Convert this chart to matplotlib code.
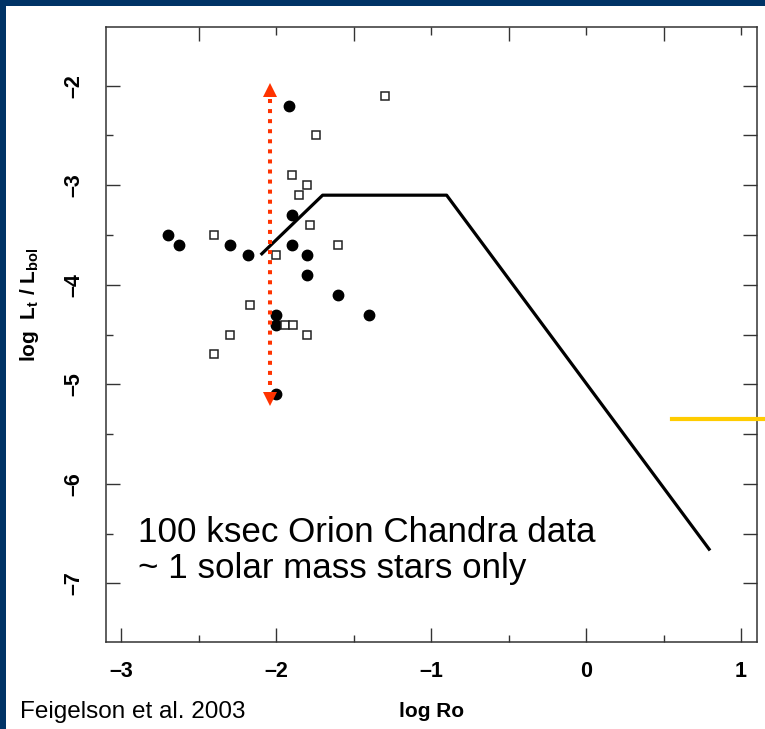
import matplotlib
matplotlib.use('Agg')
import matplotlib.pyplot as plt
from matplotlib.patches import Rectangle

# ---- data ----
filled_x = [-1.92, -1.90, -2.70, -2.63, -2.30, -2.18, -1.90, -1.80, -1.80, -1.60, -1.40, -2.00, -2.00, -2.00]
filled_y = [-2.20, -3.30, -3.50, -3.60, -3.60, -3.70, -3.60, -3.70, -3.90, -4.10, -4.30, -4.30, -4.40, -5.10]

open_x = [-1.30, -1.74, -1.90, -1.80, -1.85, -1.78, -2.40, -1.60, -2.00, -2.17, -1.94, -1.89, -1.80, -2.30, -2.40]
open_y = [-2.10, -2.50, -2.90, -3.00, -3.10, -3.40, -3.50, -3.60, -3.70, -4.20, -4.40, -4.40, -4.50, -4.50, -4.70]

model_x = [-2.10, -1.70, -0.90, 0.80]
model_y = [-3.70, -3.10, -3.10, -6.67]

arrow_x = -2.04
arrow_line_y = [-2.13, -5.05]
arrow_head_y = [-2.04, -5.15]

yellow_x = [0.553, 1.3]
yellow_y = [-5.35, -5.35]

x_ticks = [-3, -2, -1, 0, 1]
y_ticks = [-2, -3, -4, -5, -6, -7]

note_lines = ["100 ksec Orion Chandra data", "~ 1 solar mass stars only"]
credit = "Feigelson et al. 2003"

plt.rcParams['mathtext.fontset'] = 'custom'
plt.rcParams['mathtext.rm'] = 'Liberation Sans'
plt.rcParams['mathtext.bf'] = 'Liberation Sans:bold'
plt.rcParams['mathtext.it'] = 'Liberation Sans:italic'

navy = '#003366'
fig = plt.figure(figsize=(7.65, 7.29), dpi=100, facecolor='white')
fig.patches.append(Rectangle((0, 1 - 6 / 729), 1, 6 / 729, transform=fig.transFigure,
                             facecolor=navy, edgecolor='none', zorder=0))
fig.patches.append(Rectangle((0, 0), 6 / 765, 1, transform=fig.transFigure,
                             facecolor=navy, edgecolor='none', zorder=0))

ax = fig.add_axes([105.7 / 765, 87 / 729, (757 - 105.7) / 765, (642 - 27) / 729])
ax.set_xlim(-3.1, 1.103)
ax.set_ylim(-7.59, -1.41)

for s in ax.spines.values():
    s.set_color('#333333')
    s.set_linewidth(1.1)

tick_font = 'Liberation Sans'
ax.set_xticks(x_ticks)
ax.set_xticklabels([f"\u2013{abs(v)}" if v < 0 else str(v) for v in x_ticks],
                   family=tick_font, fontweight='bold', fontsize=15.5)
ax.set_xticks([-2.5, -1.5, -0.5, 0.5], minor=True)
ax.set_yticks(y_ticks)
ax.set_yticklabels([f"\u2013{abs(v)}" for v in y_ticks],
                   family=tick_font, fontweight='bold', fontsize=15.5,
                   rotation=90, va='center')
ax.set_yticks([-2.5, -3.5, -4.5, -5.5, -6.5], minor=True)
ax.tick_params(axis='x', which='major', direction='in', length=10, width=1, pad=14, color='#333333')
ax.tick_params(axis='x', which='minor', direction='in', length=5, width=1, color='#333333')
ax.tick_params(axis='y', which='major', direction='in', length=10, width=1, pad=15, color='#333333')
ax.tick_params(axis='y', which='minor', direction='in', length=5, width=1, color='#333333')

# top secondary ticks
top = ax.secondary_xaxis('top')
top.set_xticks([-2.5, -1.5, -0.5, 0.5])
top.set_xticks([-2, -1, 0, 1], minor=True)
top.tick_params(which='major', direction='in', length=10, width=1, labeltop=False, color='#333333')
top.tick_params(which='minor', direction='in', length=6, width=1, color='#333333')
top.spines['top'].set_visible(False)
# right secondary ticks
right = ax.secondary_yaxis('right')
right.set_yticks([-2, -2.5, -3, -3.5, -4, -4.5, -5, -5.5, -6, -6.5, -7])
right.tick_params(which='major', direction='in', length=10, width=1, labelright=False, color='#333333')
right.spines['right'].set_visible(False)

# data
ax.plot(model_x, model_y, color='black', lw=2.3, solid_capstyle='butt', zorder=3)
ax.plot(filled_x, filled_y, 'o', color='black', ms=7.5, zorder=4)
ax.plot(open_x, open_y, 's', mfc='white', mec='#222222', mew=1.1, ms=6, ls='none', zorder=4)

ax.plot([arrow_x, arrow_x], arrow_line_y, color='#ff3300', lw=2.9,
        dashes=(1, 1.5), dash_capstyle='butt', zorder=5)
ax.plot([arrow_x], [arrow_head_y[0]], '^', color='#ff3300', ms=10, mew=0, zorder=5)
ax.plot([arrow_x], [arrow_head_y[1]], 'v', color='#ff3300', ms=10, mew=0, zorder=5)

ax.plot(yellow_x, yellow_y, color='#ffcc00', lw=3, clip_on=False, zorder=5)

ax.text(138 / 765, 1 - 542 / 729, note_lines[0], transform=fig.transFigure,
        family='Liberation Sans', fontsize=25.2, ha='left', va='baseline')
ax.text(138 / 765, 1 - 578 / 729, note_lines[1], transform=fig.transFigure,
        family='Liberation Sans', fontsize=25.2, ha='left', va='baseline')

ax.set_xlabel('log Ro', family=tick_font, fontweight='bold', fontsize=15)
ax.xaxis.set_label_coords(0.5, -0.097)
ax.set_ylabel(r'$\mathbf{log\ \ L_t\ /\ L_{bol}}$', fontsize=15)
ax.yaxis.set_label_coords(-0.1, 0.548)

fig.text(20 / 765, 1 - 712 / 729, credit, family='Liberation Sans', fontsize=17.5,
         ha='left', va='center')

fig.savefig('out.png', dpi=100, facecolor='white')
